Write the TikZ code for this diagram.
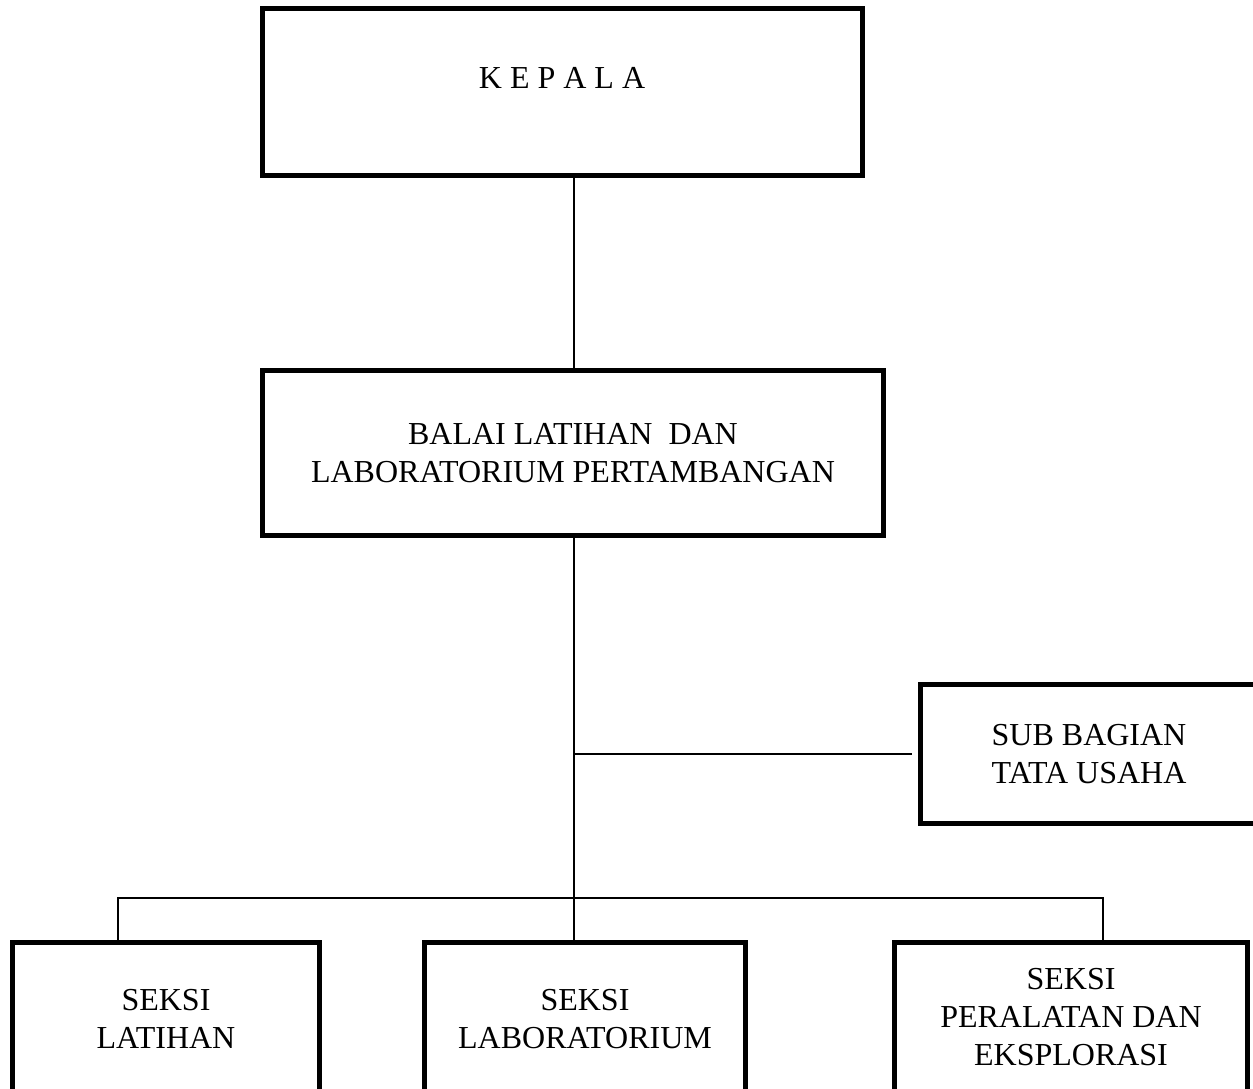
\documentclass[tikz,border=0pt]{standalone}
\usepackage{fontspec}
\setmainfont{Liberation Serif}
\usepackage{tikz}

\begin{document}
\begin{tikzpicture}[x=1pt,y=-1pt,
    unit/.style={draw, line width=5pt, align=center, inner sep=0pt,
                 font=\fontsize{32}{38}\selectfont},
    link/.style={line width=1.6pt}]

\useasboundingbox (0,0) rectangle (1253,1088);

\node[unit, minimum width=600pt, minimum height=167pt] (kepala) at (562,92) {};
\node[font=\fontsize{32}{38}\selectfont] (kepalatxt) at ([yshift=14pt]kepala.center) {K E P A L A};

\node[unit, minimum width=621pt, minimum height=165pt] (balai) at (573,453)
    {BALAI LATIHAN\ \ DAN\\LABORATORIUM PERTAMBANGAN};

\node[unit, minimum width=337pt, minimum height=139pt] (tu) at (1089,754)
    {SUB BAGIAN\\TATA USAHA};

\node[unit, minimum width=307pt, minimum height=154pt] (latihan) at (166,1019)
    {SEKSI\\LATIHAN};
\node[unit, minimum width=321pt, minimum height=154pt] (lab) at (585,1019)
    {SEKSI\\LABORATORIUM};
\node[unit, minimum width=353pt, minimum height=150pt] (alat) at (1071,1017)
    {SEKSI\\PERALATAN DAN\\EKSPLORASI};

\coordinate (bus) at (574,898);

\draw[link] (balai.north -| 574,0) -- (kepala.south -| 574,0);
\draw[link] (balai.south -| 574,0) -- (lab.north -| 574,0);
\draw[link, shorten >=6pt] (tu.west -| 574,0) -- (tu.west);
\draw[link] ([xshift=-48pt]latihan.north) |- (bus) -| ([xshift=32pt]alat.north);

\end{tikzpicture}
\end{document}
